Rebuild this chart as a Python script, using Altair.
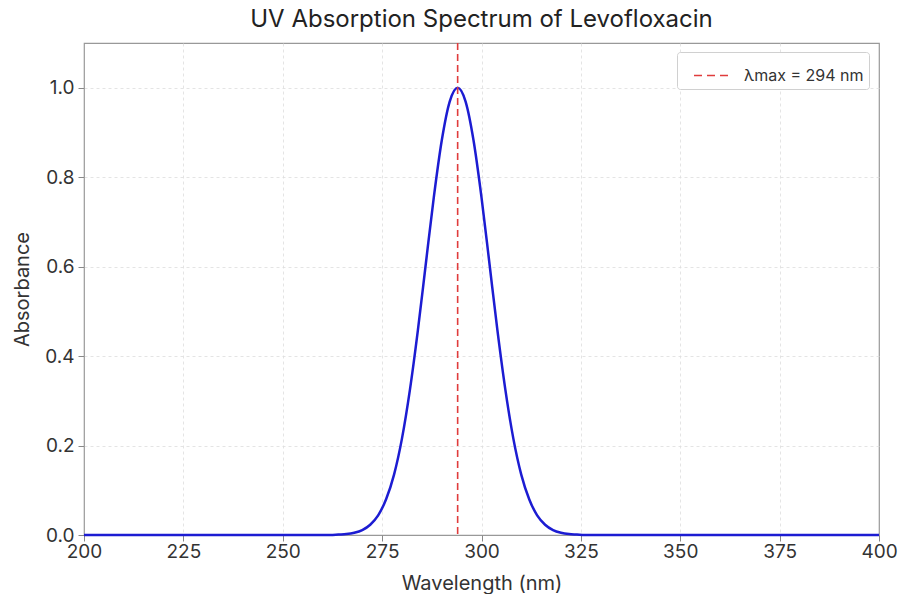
import altair as alt
import pandas as pd

# Wavelength (nm) and absorbance
wavelength = [200, 260, 262, 264, 266, 268, 270, 272, 274, 276, 278, 280, 282, 284, 286, 288,
              290, 292, 294, 296, 298, 300, 302, 304, 306, 308, 310, 312, 314, 316,
              318, 320, 322, 324, 326, 328, 400]
absorbance = [0.0, 0.0, 0.0, 0.001, 0.002, 0.005, 0.011, 0.023, 0.044, 0.080, 0.135, 0.216, 0.325,
              0.458, 0.607, 0.755, 0.882, 0.969, 1.0, 0.969, 0.882, 0.755, 0.607, 0.458,
              0.325, 0.216, 0.135, 0.080, 0.044, 0.023, 0.011, 0.005, 0.002,
              0.001, 0.0, 0.0, 0.0]

lambda_max = [294]
legend_label = ["λmax = 294 nm"]

x_ticks = [200, 225, 250, 275, 300, 325, 350, 375, 400]
y_ticks = [0.0, 0.2, 0.4, 0.6, 0.8, 1.0]

df = pd.DataFrame({"wavelength": wavelength, "absorbance": absorbance})
df_rule = pd.DataFrame({"x": lambda_max, "label": legend_label})

FONT = "Inter"

x_enc = alt.X("wavelength:Q", scale=alt.Scale(domain=[200, 400], nice=False),
              axis=alt.Axis(title="Wavelength (nm)", values=x_ticks, labelFlush=False,
                            gridOpacity={"condition": {"test": "datum.value == 200 || datum.value == 400", "value": 0}, "value": 1}))
y_enc = alt.Y("absorbance:Q", scale=alt.Scale(domain=[0, 1.1], nice=False),
              axis=alt.Axis(title="Absorbance", values=y_ticks, format=".1f", labelFlush=False,
                            gridOpacity={"condition": {"test": "datum.value == 0", "value": 0}, "value": 1}))

line = alt.Chart(df).mark_line(color="#1c1cd2", strokeWidth=2.5, interpolate="monotone").encode(
    x=x_enc, y=y_enc
)

rule = alt.Chart(df_rule).mark_rule(strokeDash=[7, 4], strokeWidth=1.6).encode(
    x=alt.X("x:Q"),
    color=alt.Color("label:N", scale=alt.Scale(range=["#e03c3c"]),
                    legend=alt.Legend(title=None, orient="none", legendX=593, legendY=9,
                                      symbolType="stroke", symbolStrokeWidth=1.6,
                                      symbolDash=[8, 5], symbolSize=1225, symbolOffset=11,
                                      labelOffset=14,
                                      labelFontSize=16, labelColor="#333333", labelFont=FONT,
                                      padding=5, strokeColor="#d0d0d0", cornerRadius=3,
                                      fillColor="white")),
)

chart = alt.layer(line, rule).properties(
    width=795, height=492,
    title=alt.TitleParams("UV Absorption Spectrum of Levofloxacin", fontSize=24, font=FONT,
                          fontWeight="normal", color="#222222", offset=10),
    autosize=alt.AutoSizeParams(type="none"),
    padding={"left": 84, "top": 43, "right": 20, "bottom": 59},
).configure_view(
    stroke="#999999", strokeWidth=1.2
).configure_axis(
    grid=True, gridDash=[3, 3], gridColor="#dddddd", gridWidth=0.8,
    domain=False, tickColor="#888888", tickSize=6,
    labelFontSize=19, labelFont=FONT, labelColor="#333333",
    titleFontSize=20, titleFont=FONT, titleFontWeight="normal", titleColor="#333333",
).configure_axisX(titlePadding=12, labelPadding=1).configure_axisY(titlePadding=12, labelPadding=4)

chart.save("out.html", embed_options={"renderer": "svg", "actions": False})
